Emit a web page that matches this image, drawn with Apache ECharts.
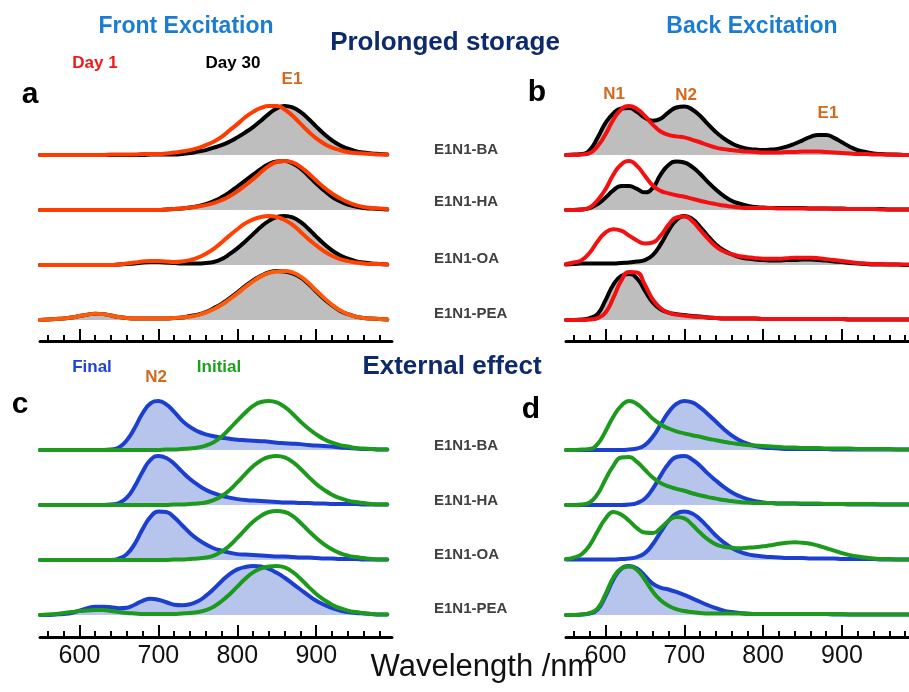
<!DOCTYPE html>
<html>
<head>
<meta charset="utf-8">
<script src="https://cdn.jsdelivr.net/npm/echarts@6/dist/echarts.min.js"></script>
<style>
  html, body { margin: 0; padding: 0; background: #fff; }
  #chart { width: 909px; height: 692px; }
</style>
</head>
<body>
<div id="chart"></div>
<script>
// wavelength grid (nm) shared by every spectrum
const wavelengths = [550, 560, 570, 580, 590, 600, 610, 620, 630, 640,
  650, 660, 670, 680, 690, 700, 710, 720, 730, 740,
  750, 760, 770, 780, 790, 800, 810, 820, 830, 840,
  850, 860, 870, 880, 890, 900, 910, 920, 930, 940,
  950, 960, 970, 980, 990];
const sampleNames = ["E1N1-BA", "E1N1-HA", "E1N1-OA", "E1N1-PEA"];
const majorTicks = [600, 700, 800, 900];
const minorTicks = [560, 580, 620, 640, 660, 680, 720, 740, 760, 780, 820, 840, 860, 880, 920, 940, 960, 980];

// (a) front excitation, day 30 (black, filled) and day 1 (red)
const aDay30 = [
  [0,0,0,0,0,0,0,0,0,0, 0,0,0,0,0.01,0.01,0.01,0.01,0.02,0.04, 0.07,0.1,0.15,0.2,0.27,0.36,0.46,0.57,0.7,0.84, 0.95,1,0.97,0.88,0.74,0.58,0.43,0.3,0.2,0.13, 0.08,0.05,0.03,0.02,0.01],
  [0,0,0,0,0,0,0,0,0,0, 0,0,0,0,0,0,0.01,0.02,0.03,0.05, 0.08,0.12,0.18,0.26,0.36,0.48,0.6,0.72,0.84,0.94, 0.99,1,0.95,0.85,0.7,0.54,0.4,0.27,0.18,0.11, 0.07,0.04,0.03,0.02,0.01],
  [0,0,0,0,0,0,0,0,0,0, 0.01,0.02,0.03,0.05,0.06,0.06,0.05,0.04,0.03,0.03, 0.03,0.04,0.06,0.12,0.22,0.34,0.48,0.63,0.78,0.9, 0.98,1,0.97,0.88,0.74,0.58,0.43,0.3,0.2,0.13, 0.08,0.05,0.03,0.02,0.01],
  [0,0.01,0.02,0.03,0.05,0.08,0.11,0.13,0.12,0.09, 0.06,0.04,0.03,0.03,0.03,0.03,0.03,0.04,0.05,0.08, 0.11,0.16,0.24,0.33,0.44,0.56,0.69,0.81,0.9,0.97, 1,0.99,0.95,0.87,0.74,0.58,0.43,0.3,0.19,0.12, 0.07,0.04,0.03,0.02,0.01]
];
const aDay1 = [
  [0,0,0,0,0,0,0,0,0,0.01, 0.01,0.01,0.01,0.02,0.02,0.02,0.03,0.05,0.07,0.1, 0.14,0.2,0.27,0.37,0.5,0.63,0.77,0.88,0.96,1, 1,0.93,0.8,0.64,0.48,0.34,0.23,0.15,0.1,0.06, 0.04,0.03,0.02,0.01,0.01],
  [0,0,0,0,0,0,0,0,0,0, 0,0,0,0,0,0,0.01,0.02,0.03,0.05, 0.07,0.1,0.14,0.2,0.28,0.38,0.5,0.63,0.77,0.9, 0.98,1,0.97,0.88,0.75,0.6,0.46,0.34,0.24,0.16, 0.1,0.06,0.04,0.03,0.02],
  [0,0,0,0,0,0,0,0,0,0, 0.01,0.03,0.05,0.07,0.08,0.08,0.07,0.06,0.07,0.1, 0.15,0.23,0.33,0.46,0.6,0.73,0.85,0.93,0.98,1, 0.98,0.92,0.82,0.68,0.53,0.4,0.28,0.19,0.12,0.08, 0.05,0.03,0.02,0.02,0.01],
  [0,0.01,0.02,0.03,0.05,0.08,0.11,0.13,0.12,0.09, 0.06,0.04,0.03,0.03,0.03,0.03,0.03,0.04,0.05,0.07, 0.1,0.15,0.22,0.31,0.42,0.54,0.67,0.79,0.89,0.96, 0.99,1,0.97,0.89,0.76,0.6,0.45,0.31,0.2,0.12, 0.07,0.04,0.03,0.02,0.01]
];

// (b) back excitation
const bDay30 = [
  [0,0.01,0.02,0.1,0.35,0.65,0.85,0.95,0.96,0.88, 0.76,0.7,0.74,0.87,0.97,0.99,0.93,0.8,0.63,0.47, 0.34,0.24,0.17,0.13,0.11,0.1,0.11,0.13,0.17,0.23, 0.3,0.37,0.41,0.41,0.35,0.26,0.17,0.1,0.06,0.03, 0.02,0.01,0.01,0,0],
  [0,0,0.01,0.04,0.12,0.25,0.4,0.49,0.49,0.43, 0.36,0.45,0.72,0.92,0.99,0.97,0.88,0.74,0.57,0.42, 0.29,0.19,0.13,0.09,0.06,0.05,0.04,0.04,0.04,0.04, 0.04,0.03,0.03,0.03,0.03,0.03,0.02,0.02,0.02,0.02, 0.02,0.01,0.01,0.01,0.01],
  [0.01,0.02,0.03,0.03,0.03,0.03,0.03,0.04,0.05,0.07, 0.1,0.2,0.42,0.7,0.92,1,0.94,0.78,0.59,0.42, 0.3,0.22,0.16,0.13,0.11,0.1,0.09,0.09,0.1,0.1, 0.11,0.11,0.1,0.09,0.07,0.06,0.04,0.03,0.02,0.01, 0.01,0.01,0.01,0,0],
  [0,0,0.01,0.04,0.12,0.4,0.72,0.9,0.94,0.85, 0.6,0.36,0.22,0.15,0.12,0.1,0.08,0.07,0.05,0.04, 0.03,0.03,0.03,0.03,0.03,0.02,0.02,0.02,0.02,0.02, 0.02,0.02,0.02,0.02,0.02,0.02,0.01,0.01,0.01,0.01, 0.01,0.01,0.01,0.01,0.01]
];
const bDay1 = [
  [0,0,0.01,0.04,0.18,0.42,0.72,0.93,1,0.94, 0.8,0.62,0.48,0.41,0.38,0.36,0.31,0.26,0.2,0.15, 0.12,0.1,0.08,0.07,0.06,0.05,0.05,0.05,0.06,0.06, 0.07,0.07,0.07,0.06,0.05,0.04,0.03,0.02,0.02,0.01, 0.01,0.01,0,0,0],
  [0,0,0.01,0.05,0.2,0.42,0.72,0.93,1,0.9, 0.7,0.5,0.39,0.34,0.3,0.27,0.23,0.19,0.15,0.12, 0.09,0.07,0.05,0.04,0.04,0.04,0.04,0.03,0.03,0.03, 0.03,0.03,0.03,0.03,0.02,0.02,0.02,0.02,0.02,0.02, 0.01,0.01,0.01,0.01,0.01],
  [0.02,0.05,0.1,0.25,0.48,0.66,0.73,0.7,0.6,0.5, 0.44,0.46,0.6,0.82,0.97,0.99,0.9,0.72,0.54,0.38, 0.28,0.22,0.18,0.16,0.14,0.13,0.13,0.13,0.14,0.15, 0.15,0.15,0.14,0.12,0.1,0.08,0.06,0.04,0.03,0.02, 0.02,0.01,0.01,0.01,0.01],
  [0,0,0,0.01,0.04,0.15,0.45,0.8,0.98,0.97, 0.72,0.42,0.24,0.15,0.11,0.09,0.07,0.06,0.05,0.04, 0.03,0.03,0.03,0.03,0.03,0.02,0.02,0.02,0.02,0.02, 0.02,0.02,0.02,0.02,0.02,0.02,0.01,0.01,0.01,0.01, 0.01,0.01,0.01,0.01,0.01]
];

// (c) external effect, front excitation: final (blue, filled) and initial (green)
const cFinal = [
  [0,0,0,0,0,0,0,0,0,0.01, 0.05,0.2,0.45,0.75,0.95,1,0.93,0.78,0.6,0.47, 0.38,0.32,0.28,0.25,0.23,0.21,0.2,0.19,0.18,0.17, 0.15,0.14,0.13,0.12,0.1,0.09,0.08,0.07,0.05,0.04, 0.03,0.02,0.02,0.01,0.01],
  [0,0,0,0,0,0,0,0,0,0.01, 0.04,0.15,0.38,0.68,0.92,1,0.96,0.84,0.68,0.53, 0.41,0.31,0.24,0.19,0.15,0.12,0.1,0.09,0.08,0.07, 0.06,0.05,0.05,0.04,0.04,0.03,0.03,0.02,0.02,0.02, 0.02,0.01,0.01,0.01,0.01],
  [0,0,0,0,0,0,0,0,0,0, 0.03,0.12,0.33,0.63,0.88,0.99,0.98,0.87,0.71,0.55, 0.42,0.32,0.24,0.19,0.15,0.12,0.11,0.1,0.09,0.08, 0.07,0.07,0.06,0.05,0.05,0.04,0.03,0.03,0.02,0.02, 0.02,0.01,0.01,0.01,0.01],
  [0,0,0.01,0.02,0.04,0.09,0.14,0.17,0.17,0.16, 0.14,0.15,0.21,0.29,0.33,0.31,0.26,0.21,0.2,0.22, 0.28,0.39,0.53,0.69,0.83,0.93,0.98,1,0.99,0.94, 0.86,0.76,0.64,0.52,0.4,0.29,0.21,0.14,0.09,0.06, 0.04,0.03,0.02,0.01,0.01]
];
const cInitial = [
  [0,0,0,0,0,0,0,0,0,0, 0,0,0,0,0,0,0.01,0.01,0.02,0.03, 0.05,0.09,0.16,0.27,0.43,0.6,0.76,0.9,0.98,1, 0.97,0.88,0.74,0.58,0.44,0.32,0.22,0.15,0.1,0.07, 0.04,0.03,0.02,0.01,0.01],
  [0,0,0,0,0,0,0,0,0,0, 0,0,0,0,0,0,0,0.01,0.01,0.02, 0.03,0.05,0.1,0.18,0.3,0.46,0.63,0.79,0.91,0.98, 1,0.97,0.88,0.74,0.58,0.43,0.31,0.21,0.14,0.09, 0.06,0.04,0.02,0.01,0.01],
  [0,0,0,0,0,0,0,0,0,0, 0,0,0,0,0,0,0,0.01,0.01,0.02, 0.03,0.05,0.09,0.17,0.29,0.45,0.62,0.78,0.9,0.98, 1,0.98,0.9,0.76,0.6,0.45,0.32,0.22,0.14,0.09, 0.06,0.04,0.02,0.01,0.01],
  [0,0.01,0.02,0.04,0.06,0.08,0.09,0.1,0.1,0.08, 0.06,0.04,0.03,0.02,0.02,0.02,0.02,0.02,0.03,0.04, 0.06,0.1,0.17,0.28,0.42,0.58,0.74,0.87,0.95,0.99, 1,0.97,0.88,0.74,0.58,0.43,0.31,0.21,0.14,0.09, 0.06,0.04,0.02,0.01,0.01]
];

// (d) external effect, back excitation
const dFinal = [
  [0,0,0,0,0,0,0,0,0.01,0.03, 0.1,0.27,0.52,0.77,0.94,1,0.97,0.87,0.73,0.58, 0.43,0.3,0.2,0.13,0.08,0.05,0.04,0.03,0.02,0.02, 0.02,0.02,0.02,0.02,0.01,0.01,0.01,0.01,0.01,0.01, 0.01,0.01,0.01,0.01,0.01],
  [0,0,0,0,0,0,0,0,0.01,0.04, 0.13,0.33,0.6,0.84,0.98,1,0.93,0.8,0.64,0.5, 0.37,0.26,0.18,0.12,0.08,0.05,0.04,0.03,0.03,0.03, 0.02,0.02,0.02,0.02,0.02,0.02,0.01,0.01,0.01,0.01, 0.01,0.01,0.01,0.01,0.01],
  [0.01,0.01,0.01,0.01,0.01,0.01,0.01,0.02,0.03,0.06, 0.14,0.32,0.57,0.8,0.95,0.99,0.95,0.83,0.67,0.5, 0.36,0.25,0.17,0.12,0.09,0.07,0.06,0.05,0.04,0.04, 0.04,0.03,0.03,0.03,0.03,0.02,0.02,0.02,0.02,0.02, 0.01,0.01,0.01,0.01,0.01],
  [0,0,0.01,0.03,0.11,0.38,0.72,0.94,1,0.95, 0.8,0.64,0.56,0.52,0.47,0.41,0.34,0.27,0.2,0.14, 0.09,0.06,0.04,0.03,0.02,0.02,0.02,0.02,0.02,0.02, 0.02,0.02,0.02,0.02,0.01,0.01,0.01,0.01,0.01,0.01, 0.01,0.01,0.01,0.01,0.01]
];
const dInitial = [
  [0,0,0.01,0.02,0.12,0.38,0.68,0.9,1,0.94, 0.8,0.64,0.52,0.44,0.38,0.34,0.3,0.27,0.23,0.2, 0.17,0.14,0.12,0.1,0.09,0.08,0.07,0.06,0.05,0.05, 0.04,0.04,0.04,0.03,0.03,0.03,0.03,0.02,0.02,0.02, 0.02,0.02,0.01,0.01,0.01],
  [0,0,0.01,0.05,0.22,0.52,0.8,0.97,0.98,0.88, 0.72,0.56,0.45,0.38,0.33,0.29,0.24,0.2,0.16,0.13, 0.1,0.08,0.06,0.05,0.04,0.04,0.04,0.03,0.03,0.03, 0.03,0.03,0.03,0.02,0.02,0.02,0.02,0.02,0.02,0.02, 0.01,0.01,0.01,0.01,0.01],
  [0.02,0.05,0.12,0.3,0.58,0.84,0.98,0.93,0.8,0.65, 0.56,0.55,0.65,0.8,0.88,0.85,0.72,0.56,0.42,0.32, 0.27,0.25,0.24,0.25,0.26,0.28,0.3,0.33,0.35,0.36, 0.35,0.33,0.29,0.24,0.19,0.14,0.1,0.07,0.05,0.03, 0.02,0.02,0.01,0.01,0.01],
  [0,0,0.01,0.04,0.13,0.42,0.76,0.95,0.99,0.92, 0.72,0.48,0.3,0.19,0.12,0.08,0.06,0.04,0.03,0.03, 0.03,0.03,0.03,0.02,0.02,0.02,0.02,0.02,0.02,0.02, 0.02,0.02,0.02,0.02,0.02,0.02,0.01,0.01,0.01,0.01, 0.01,0.01,0.01,0.01,0.01]
];

const FONT = '"Liberation Sans", Arial, sans-serif';
const ROW_H = 49;

const panels = [
  { left: 40, width: 352, max: 996, bases: [155, 210, 265, 320], axisY: 341, labels: false,
    filled: aDay30, over: aDay1, fillLine: "#000000", fillArea: "#bebebe",
    overColors: ["#ff3c00", "#ff3c00", "#ff4200", "#ff5a0a"] },
  { left: 566, width: 343, max: 985, bases: [155, 210, 265, 320], axisY: 341, labels: false,
    filled: bDay30, over: bDay1, fillLine: "#000000", fillArea: "#bebebe",
    overColors: ["#f41010", "#f41010", "#f41010", "#f41010"] },
  { left: 40, width: 352, max: 996, bases: [450, 505, 560, 615], axisY: 637, labels: true,
    filled: cFinal, over: cInitial, fillLine: "#1c3fd0", fillArea: "#b7c5ec",
    overColors: ["#1d9a1d", "#1d9a1d", "#1d9a1d", "#1d9a1d"] },
  { left: 566, width: 343, max: 985, bases: [450, 505, 560, 615], axisY: 637, labels: true,
    filled: dFinal, over: dInitial, fillLine: "#1c3fd0", fillArea: "#b7c5ec",
    overColors: ["#1d9a1d", "#1d9a1d", "#1d9a1d", "#1d9a1d"] }
];

const grid = [], xAxis = [], yAxis = [], series = [];

const pairs = (vals) => wavelengths.map((w, i) => [w, vals[i]]);

panels.forEach((p) => {
  p.bases.forEach((base, r) => {
    const gi = grid.length;
    grid.push({ left: p.left, width: p.width, top: base - ROW_H, height: ROW_H });
    xAxis.push({ gridIndex: gi, type: "value", min: 550, max: p.max, show: false });
    yAxis.push({ gridIndex: gi, type: "value", min: 0, max: 1, show: false });
    series.push({
      type: "line", xAxisIndex: gi, yAxisIndex: gi, data: pairs(p.filled[r]),
      showSymbol: false, smooth: 0.5, clip: false, silent: true,
      lineStyle: { color: p.fillLine, width: 4, join: "round", cap: "round" },
      areaStyle: { color: p.fillArea, opacity: 1 }
    });
    series.push({
      type: "line", xAxisIndex: gi, yAxisIndex: gi, data: pairs(p.over[r]),
      showSymbol: false, smooth: 0.5, clip: false, silent: true,
      lineStyle: { color: p.overColors[r], width: 4, join: "round", cap: "round" }
    });
  });

  // axis with major ticks (and labels)
  let gi = grid.length;
  grid.push({ left: p.left, width: p.width, top: p.axisY - 20, height: 20 });
  xAxis.push({
    gridIndex: gi, type: "value", min: 550, max: p.max,
    axisLine: { show: true, lineStyle: { color: "#000", width: 3 } },
    axisTick: { show: true, inside: true, length: 12, customValues: majorTicks, lineStyle: { color: "#000", width: 2 } },
    axisLabel: { show: p.labels, customValues: majorTicks, margin: 7, color: "#111", fontSize: 25, fontFamily: FONT },
    splitLine: { show: false }
  });
  yAxis.push({ gridIndex: gi, type: "value", min: 0, max: 1, show: false });

  // overlay axis with minor ticks
  gi = grid.length;
  grid.push({ left: p.left, width: p.width, top: p.axisY - 20, height: 20 });
  xAxis.push({
    gridIndex: gi, type: "value", min: 550, max: p.max,
    axisLine: { show: false },
    axisTick: { show: true, inside: true, length: 6, customValues: minorTicks, lineStyle: { color: "#000", width: 2 } },
    axisLabel: { show: false },
    splitLine: { show: false }
  });
  yAxis.push({ gridIndex: gi, type: "value", min: 0, max: 1, show: false });
});

const txt = (text, x, y, fill, size, weight, align) => ({
  type: "text", silent: true,
  style: { text, x, y, fill, font: `${weight} ${size}px ${FONT}`, textAlign: align || "center", textVerticalAlign: "middle" }
});

const graphic = [
  txt("Front Excitation", 186, 27, "#1a7dd2", 23, "bold"),
  txt("Back Excitation", 752, 27, "#1a7dd2", 23, "bold"),
  txt("Prolonged storage", 445, 43, "#0d2a6c", 26, "bold"),
  txt("External effect", 452, 367, "#0d2a6c", 26, "bold"),
  txt("Day 1", 95, 63, "#f01818", 17, "bold"),
  txt("Day 30", 233, 63, "#000000", 17, "bold"),
  txt("E1", 292, 79, "#d2691e", 17, "bold"),
  txt("a", 30, 95, "#000000", 30, "bold"),
  txt("b", 537, 93, "#000000", 30, "bold"),
  txt("c", 20, 405, "#000000", 30, "bold"),
  txt("d", 531, 410, "#000000", 30, "bold"),
  txt("N1", 614, 94, "#d2691e", 17, "bold"),
  txt("N2", 686, 95, "#d2691e", 17, "bold"),
  txt("E1", 828, 113, "#d2691e", 17, "bold"),
  txt("Final", 92, 367, "#1f44d0", 17, "bold"),
  txt("N2", 156, 377, "#d2691e", 17, "bold"),
  txt("Initial", 219, 367, "#20a020", 17, "bold"),
  txt("Wavelength /nm", 482, 667, "#111111", 31, "normal")
];
const nameY = [150, 202, 259, 314, 446, 501, 555, 609];
nameY.forEach((y, i) => graphic.push(txt(sampleNames[i % 4], 434, y, "#404040", 15, "bold", "left")));

const chart = echarts.init(document.getElementById("chart"), null, { renderer: "canvas" });
chart.setOption({
  animation: false,
  backgroundColor: "#ffffff",
  grid, xAxis, yAxis, series, graphic
});
</script>
</body>
</html>
